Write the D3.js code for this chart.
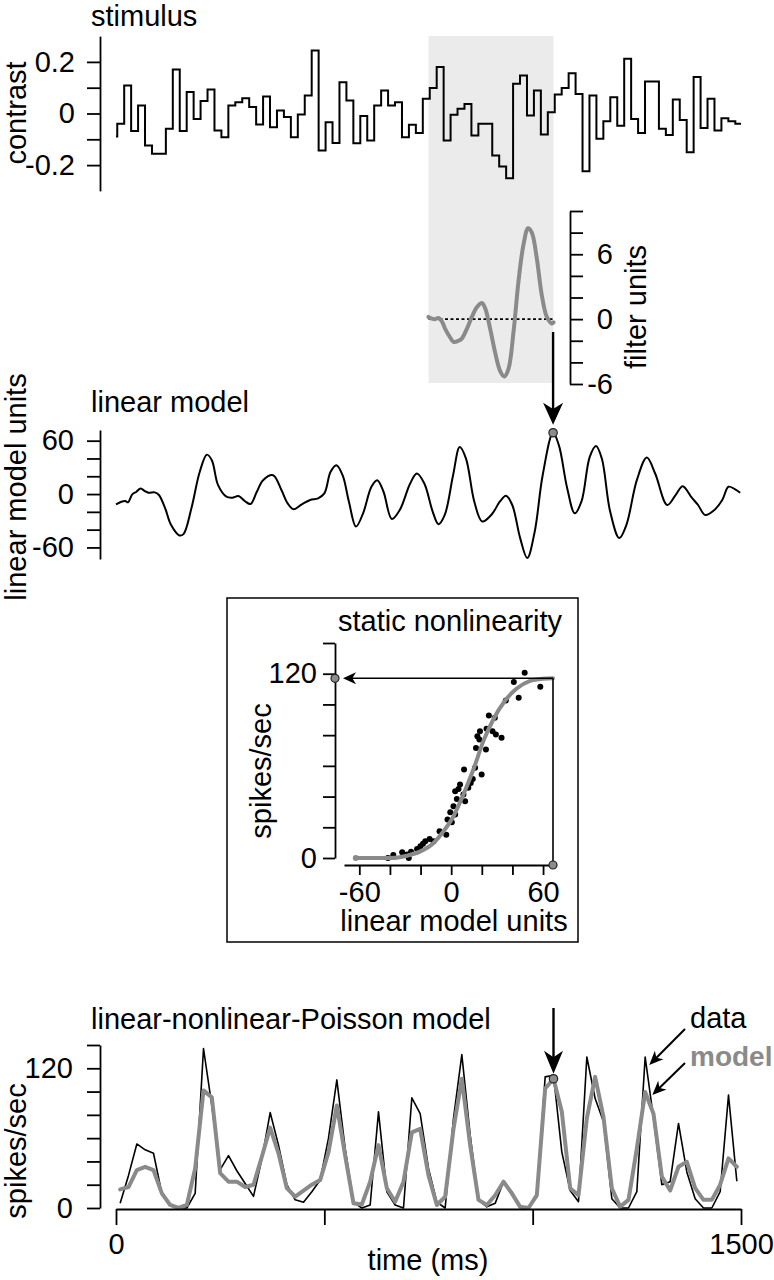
<!DOCTYPE html>
<html><head><meta charset="utf-8">
<script src="https://cdn.jsdelivr.net/npm/d3@7"></script>
<style>
html,body{margin:0;padding:0;background:#fff}
svg{display:block}
text{font-family:"Liberation Sans",Arial,Helvetica,sans-serif;fill:#000}
</style>
</head><body>
<svg id="c" width="774" height="1280"></svg>
<script>
// ---------------- DATA ----------------
// stimulus contrast per video frame (first frame partial)
const stimValues = [-0.089,-0.04,0.109,-0.068,0.031,-0.124,-0.156,-0.156,-0.059,0.171,-0.068,0.083,-0.021,0.048,0.093,-0.066,-0.092,0.031,0.044,0.059,0.025,-0.043,0.066,-0.053,0.012,-0.014,-0.092,-0.004,0.07,0.244,-0.143,-0.034,-0.114,0.121,0.05,-0.115,-0.01,-0.105,0.031,0.089,0.031,0.044,-0.092,-0.044,-0.076,0.057,0.099,0.18,-0.105,-0.005,0.018,0.037,-0.085,-0.04,-0.04,-0.163,-0.205,-0.251,0.115,0.147,-0.008,0.089,-0.081,0.005,0.074,0.099,0.156,0.076,-0.224,0.07,-0.098,-0.03,0.063,-0.047,0.212,-0.021,-0.076,0.124,0.124,-0.059,-0.083,0.054,-0.025,-0.15,0.141,-0.056,0.057,-0.066,-0.018,-0.03,-0.04];
const stimFirstEdgeMs = 3;
const stimFrameMs = 1000/60;
const stimTicks = [-0.2,-0.1,0,0.1,0.2];
const stimTickLabels = {"-0.2":"-0.2","0":"0","0.2":"0.2"};

// linear filter (gray window), lag relative to window start (ms)
const filterWindow = [750, 1050];
const filterLagMs = [0,8,16,24,32,40,52,60,72,80,92,104,116,128,136,148,160,172,182,192,204,216,228,239,248,260,272,284,296,300];
const filterValues = [0.2,0.05,0,0.1,-0.2,-0.9,-1.7,-2.1,-2.0,-1.8,-0.9,0.2,1.1,1.5,1.0,-0.9,-3.1,-4.8,-5.3,-4.6,-1.2,3.5,6.9,8.4,8.0,5.6,2.2,0.2,-0.4,-0.3];
const filterTicks = [-6,-4,-2,0,2,4,6,8,10];
const filterTickLabels = {"-6":"-6","0":"0","6":"6"};

// linear model output (ms, units)
const linTimes = [0,13,22,29,39,49,59,69,78,93,103,118,132,152,162,181,201,218,230,245,265,279,294,309,323,338,353,377,397,412,426,446,466,485,500,515,529,544,559,576,593,613,627,642,662,681,706,722,740,760,774,789,809,825,840,860,879,902,921,936,951,970,987,1005,1024,1049,1063,1083,1101,1117,1137,1152,1166,1186,1208,1225,1250,1274,1294,1323,1343,1360,1382,1397,1414,1436,1455,1470,1485,1498];
const linValues = [-11.5,-8.6,-7.8,-9.3,-0.4,2.6,6.3,3.4,1.5,1.9,-1.1,-16,-34.6,-46.5,-45,-16,25,44.3,38,10,-3,-4.1,-2.2,-7.8,-11.2,2.6,15.6,21.2,4.5,-10.4,-17,-11.5,-6.7,-4.8,0.7,25,32.4,21,-8.6,-36.5,-21.6,8.2,15.6,2.6,-28,-17.9,11.9,23.1,11.9,-19.7,-33.9,-23.5,21.2,52.9,39.9,-8.6,-30.9,-22.7,-8.6,-1.9,-12.3,-49.5,-71.9,-42,21.2,68.9,54.7,6.3,-21.6,-8.6,41.7,54,39.9,-19.7,-49.5,-34.6,15.6,41,23.1,-12.3,-1.1,8.9,-4.1,-12.3,-23.5,-17.9,-6.7,8.2,5.6,1.5];
const linTicks = [-60,-40,-20,0,20,40,60];
const linTickLabels = {"-60":"-60","0":"0","60":"60"};

// static nonlinearity
const nlScatterX = [48.0,40.9,58.2,44.1,35.7,24.6,28.5,23.1,18.8,27.0,29.2,32.9,17.1,16.2,22.7,8.4,15.6,19.9,14.1,12.8,5.8,2.6,11.2,8.0,3.7,9.1,1.5,-0.6,2.6,-2.4,0.4,-3.2,-7.6,-11.5,-14.1,-16.9,-18.4,-20.1,-22.3,-26.2,-28.8,-32.0,-37.8,-41.3,-27.7,4.8,18.4];
const nlScatterY = [120.7,114.6,111.5,104.3,102.6,92.8,91.3,84.1,82.6,82.6,80.4,78.3,79.3,71.7,70.7,57.6,58.7,54.3,51.5,48.9,47.8,43.5,45.7,41.3,38.5,37.0,33.7,29.8,28.3,25.0,23.3,15.2,17.4,10.9,12.4,10.9,9.3,7.6,5.9,4.1,2.2,3.7,2.0,0,0,45.0,77.2];
const nlCurveX = [-62.3,-50.4,-39.6,-28.8,-20.1,-11.5,-5,1.5,8,14.5,21,27.5,35,42.6,51.2,59.9,66.5];
const nlCurveY = [0,0,0,1.5,4.3,9.8,17.4,27.2,41.3,57.6,76.1,90.2,102.2,110.2,115.2,116.7,117];
const nlHighlight = [66.5, 117];
const nlXTicks = [-60,-40,-20,0,20,40,60];
const nlXTickLabels = {"-60":"-60","0":"0","60":"60"};
const nlYTicks = [0,20,40,60,80,100,120,140];
const nlYTickLabels = {"0":"0","120":"120"};

// LNP model output: 20 ms bins
const lnpBinMs = 20;
const lnpData = [4,28,55,50,47,12.6,3,0,0,12.6,137,88,33,45,32,21,10,42,82,54,20,7,5,14,24,60,110,51,5,0,2.6,82.6,14,2.6,0,94.6,81,34,5,0,77,131.7,62.6,7,1,4,22.6,14,1,0,9.7,112.6,114,48,15,5.4,129.7,94,74,8,0,0,14,129.7,77,20,22.6,72.6,31,8,0,0,14,97,23];
const lnpModel = [16,18,32.6,35.4,32.6,12.6,2.6,0,2.6,34,101,95,30,22.6,22.6,18,20,44,69,47,17,9.7,15,20,24,48,88,45,4,3,22.6,54,17,5.4,22.6,65,68,28,2.6,9.7,68,111,54,7,2.6,11,22.6,12.6,1,0,11,102.6,111,82.6,17,11,77,112.6,78,17,1,7,51,99.7,81,27,15,35.4,39.7,17,7,7,20,42.6,35.4];
const lnpHighlightBin = 52;
const lnpYTicks = [0,20,40,60,80,100,120,140];
const lnpYTickLabels = {"0":"0","120":"120"};
const timeTicks = [0,500,1000,1500];
const timeTickLabels = {"0":"0","1500":"1500"};

// ---------------- DRAW ----------------
const svg = d3.select("#c");
const FS = 29;
const GRAY = "#8a8a8a";
const HL = "#8c8c8c";

const xTime = d3.scaleLinear().domain([0,1500]).range([116,741]);
const yStim = d3.scaleLinear().domain([-0.3,0.3]).range([190.9,36.1]);
const yLin = d3.scaleLinear().domain([-73,72]).range([559,430]);
const yFilt = d3.scaleLinear().domain([-6,10]).range([384,211]);
const xNL = d3.scaleLinear().domain([-70,66.5]).range([344,553]);
const yNL = d3.scaleLinear().domain([0,140]).range([858,643]);
const yLNP = d3.scaleLinear().domain([0,140]).range([1208,1045]);

function styleAxis(g){
  g.attr("font-size",FS).attr("font-family",'"Liberation Sans",Arial,Helvetica,sans-serif');
  g.selectAll("path.domain").attr("stroke","#000").attr("stroke-width",1.8);
  g.selectAll(".tick line").attr("stroke","#000").attr("stroke-width",1.8);
  g.selectAll(".tick text").attr("fill","#000");
}
function fmt(labels){ return d => { const k = String(d); return labels[k] !== undefined ? labels[k] : ""; }; }

function arrowHead(g, tip, dir, L, Wd, fill){
  const [dx,dy] = dir; const nx=-dy, ny=dx;
  const bx = tip[0]-dx*L, by = tip[1]-dy*L;
  const nxp = tip[0]-dx*L*0.72, nyp = tip[1]-dy*L*0.72;
  const p = d3.path();
  p.moveTo(tip[0],tip[1]);
  p.lineTo(bx+nx*Wd/2, by+ny*Wd/2);
  p.lineTo(nxp, nyp);
  p.lineTo(bx-nx*Wd/2, by-ny*Wd/2);
  p.closePath();
  g.append("path").attr("d",p.toString()).attr("fill",fill||"#000");
}
function arrow(g, from, to, L, Wd, sw){
  const dx = to[0]-from[0], dy = to[1]-from[1]; const len = Math.hypot(dx,dy);
  const u = [dx/len, dy/len];
  g.append("line").attr("x1",from[0]).attr("y1",from[1])
    .attr("x2",to[0]-u[0]*L*0.6).attr("y2",to[1]-u[1]*L*0.6)
    .attr("stroke","#000").attr("stroke-width",sw||2);
  arrowHead(g,to,u,L,Wd);
}
function hlDot(g,x,y,r){
  g.append("circle").attr("cx",x).attr("cy",y).attr("r",r||4.2)
   .attr("fill",HL).attr("stroke","#222").attr("stroke-width",1.2);
}

// ---- gray filter window ----
svg.append("rect").attr("x",xTime(filterWindow[0])).attr("y",36)
  .attr("width",xTime(filterWindow[1])-xTime(filterWindow[0])).attr("height",383-36)
  .attr("fill","#ebebeb");

// ---- stimulus ----
const stimPts = stimValues.map((v,k)=>[k===0?0:stimFirstEdgeMs+(k-1)*stimFrameMs, v]);
stimPts.push([1500, stimValues[stimValues.length-1]]);
svg.append("path").datum(stimPts)
  .attr("d", d3.line().x(d=>xTime(d[0])).y(d=>yStim(d[1])).curve(d3.curveStepAfter))
  .attr("fill","none").attr("stroke","#000").attr("stroke-width",2);
const gS = svg.append("g").attr("transform","translate(100,0)")
  .call(d3.axisLeft(yStim).tickValues(stimTicks).tickSize(13).tickSizeOuter(0).tickPadding(12).tickFormat(fmt(stimTickLabels)));
styleAxis(gS);
svg.append("text").attr("x",91).attr("y",26).attr("font-size",FS).text("stimulus");
svg.append("text").attr("transform","translate(26,113) rotate(-90)").attr("text-anchor","middle").attr("font-size",FS).text("contrast");

// ---- filter ----
svg.append("line").attr("x1",xTime(filterWindow[0])).attr("x2",xTime(filterWindow[1]))
  .attr("y1",yFilt(0)).attr("y2",yFilt(0)).attr("stroke","#000").attr("stroke-width",1.6).attr("stroke-dasharray","3,2.5");
svg.append("path").datum(filterLagMs.map((t,i)=>[filterWindow[0]+t, filterValues[i]]))
  .attr("d", d3.line().x(d=>xTime(d[0])).y(d=>yFilt(d[1])).curve(d3.curveCatmullRom))
  .attr("fill","none").attr("stroke",GRAY).attr("stroke-width",4).attr("stroke-linecap","round").attr("stroke-linejoin","round");
const gF = svg.append("g").attr("transform","translate(570,0)")
  .call(d3.axisRight(yFilt).tickValues(filterTicks).tickSize(13).tickSizeOuter(0).tickFormat(fmt(filterTickLabels)));
styleAxis(gF);
gF.selectAll(".tick text").attr("text-anchor","end").attr("x",43);
svg.append("text").attr("transform","translate(646,307) rotate(-90)").attr("text-anchor","middle").attr("font-size",FS).text("filter units");

// ---- linear model ----
const linPts = linTimes.map((t,i)=>[t,linValues[i]]);
svg.append("path").datum(linPts)
  .attr("d", d3.line().x(d=>xTime(d[0])).y(d=>yLin(d[1])).curve(d3.curveCatmullRom.alpha(0.5)))
  .attr("fill","none").attr("stroke","#000").attr("stroke-width",2);
const gL = svg.append("g").attr("transform","translate(100,0)")
  .call(d3.axisLeft(yLin).tickValues(linTicks).tickSize(13).tickSizeOuter(0).tickPadding(13).tickFormat(fmt(linTickLabels)));
styleAxis(gL);
svg.append("text").attr("x",91).attr("y",412).attr("font-size",FS).text("linear model");
svg.append("text").attr("transform","translate(26,487) rotate(-90)").attr("text-anchor","middle").attr("font-size",FS).text("linear model units");
const pkI = d3.maxIndex(linValues);
const pkX = xTime(linTimes[pkI]), pkY = yLin(linValues[pkI]);
arrow(svg,[pkX,332],[pkX,pkY-8],22,20,2.4);
hlDot(svg,pkX,pkY);

// ---- static nonlinearity box ----
svg.append("rect").attr("x",227).attr("y",598).attr("width",351).attr("height",344)
  .attr("fill","none").attr("stroke","#000").attr("stroke-width",1.5);
svg.append("text").attr("x",338).attr("y",631).attr("font-size",FS).text("static nonlinearity");
const gNy = svg.append("g").attr("transform","translate(335,0)")
  .call(d3.axisLeft(yNL).tickValues(nlYTicks).tickSize(12).tickSizeOuter(0).tickPadding(6).tickFormat(fmt(nlYTickLabels)));
styleAxis(gNy);
const gNx = svg.append("g").attr("transform","translate(0,865)")
  .call(d3.axisBottom(xNL).tickValues(nlXTicks).tickSize(10).tickSizeOuter(0).tickPadding(6).tickFormat(fmt(nlXTickLabels)));
styleAxis(gNx);
svg.append("text").attr("transform","translate(271,771) rotate(-90)").attr("text-anchor","middle").attr("font-size",FS).text("spikes/sec");
svg.append("text").attr("x",454).attr("y",931).attr("text-anchor","middle").attr("font-size",FS).text("linear model units");
svg.append("g").selectAll("circle").data(nlScatterX.map((x,i)=>[x,nlScatterY[i]])).join("circle")
  .attr("cx",d=>xNL(d[0])).attr("cy",d=>yNL(d[1])).attr("r",3).attr("fill","#000");
svg.append("path").datum(nlCurveX.map((x,i)=>[x,nlCurveY[i]]))
  .attr("d", d3.line().x(d=>xNL(d[0])).y(d=>yNL(d[1])).curve(d3.curveMonotoneX))
  .attr("fill","none").attr("stroke",GRAY).attr("stroke-width",4).attr("stroke-linecap","round");
svg.append("circle").attr("cx",xNL(nlCurveX[0])).attr("cy",yNL(nlCurveY[0])).attr("r",3).attr("fill",GRAY);
const hx = xNL(nlHighlight[0]), hy = yNL(nlHighlight[1]);
svg.append("line").attr("x1",hx).attr("x2",hx).attr("y1",hy).attr("y2",865).attr("stroke","#000").attr("stroke-width",1.6);
arrow(svg,[hx,hy],[343,hy],13,12,1.6);
hlDot(svg,335,hy,4);
hlDot(svg,hx,865,4);

// ---- LNP ----
const lnpT = lnpData.map((_,i)=>lnpBinMs/2 + i*lnpBinMs);
svg.append("path").datum(lnpData.map((v,i)=>[lnpT[i],v]))
  .attr("d", d3.line().x(d=>xTime(d[0])).y(d=>yLNP(d[1])))
  .attr("fill","none").attr("stroke","#000").attr("stroke-width",1.6).attr("stroke-linejoin","round");
svg.append("path").datum(lnpModel.map((v,i)=>[lnpT[i],v]))
  .attr("d", d3.line().x(d=>xTime(d[0])).y(d=>yLNP(d[1])))
  .attr("fill","none").attr("stroke",GRAY).attr("stroke-width",4).attr("stroke-linejoin","round").attr("stroke-linecap","round");
const gPy = svg.append("g").attr("transform","translate(100,0)")
  .call(d3.axisLeft(yLNP).tickValues(lnpYTicks).tickSize(13).tickSizeOuter(0).tickPadding(14).tickFormat(fmt(lnpYTickLabels)));
styleAxis(gPy);
const gPx = svg.append("g").attr("transform","translate(0,1209)")
  .call(d3.axisBottom(xTime).tickValues(timeTicks).tickSize(16).tickSizeOuter(0).tickPadding(8).tickFormat(fmt(timeTickLabels)));
styleAxis(gPx);
svg.append("text").attr("x",91).attr("y",1029).attr("font-size",FS).text("linear-nonlinear-Poisson model");
svg.append("text").attr("transform","translate(26,1151) rotate(-90)").attr("text-anchor","middle").attr("font-size",FS).text("spikes/sec");
svg.append("text").attr("x",428).attr("y",1270).attr("text-anchor","middle").attr("font-size",FS).text("time (ms)");
const lx = xTime(lnpT[lnpHighlightBin]), ly = yLNP(lnpModel[lnpHighlightBin]);
arrow(svg,[lx,1008],[lx,ly-5],23,19,2.4);
hlDot(svg,lx,ly);
svg.append("text").attr("x",690).attr("y",1028).attr("font-size",FS).text("data");
svg.append("text").attr("x",690).attr("y",1066).attr("font-size",FS-1).attr("font-weight","bold").style("fill",GRAY).text("model");
arrow(svg,[685,1029],[xTime(1275)+2,yLNP(lnpData[63])+8],14,12,2);
arrow(svg,[685,1063],[xTime(1280)+3,yLNP(lnpModel[63])+3],14,12,2);
</script>
</body></html>
